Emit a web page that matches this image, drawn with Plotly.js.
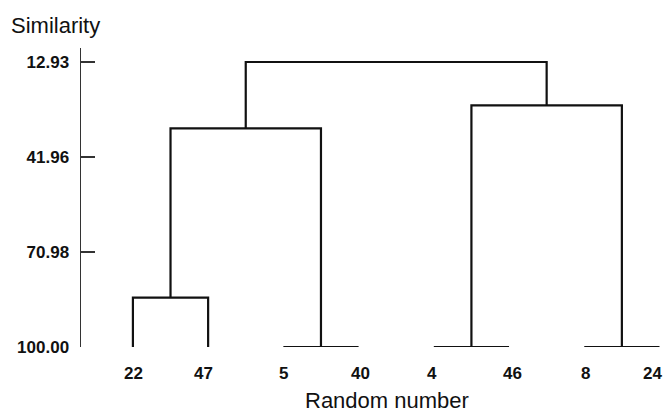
<!DOCTYPE html>
<html>
<head>
<meta charset="utf-8">
<script src="https://cdn.plot.ly/plotly-3.0.1.min.js"></script>
<style>html,body{margin:0;padding:0;background:#fff;}#chart{width:664px;height:412px;}</style>
</head>
<body>
<div id="chart"></div>
<script>
// Leaves in dendrogram order
const leafLabels = ['22', '47', '5', '40', '4', '46', '8', '24'];
// Merges: ids 0..7 are leaves, new clusters get ids 8, 9, ...
const mergeLeft   = [0, 2, 4, 6, 8, 10, 12];
const mergeRight  = [1, 3, 5, 7, 9, 11, 13];
const mergeHeight = [84.9, 100.0, 100.0, 100.0, 33.2, 26.2, 12.93];
const yTickVals = [12.93, 41.96, 70.98, 100.00];
const yTickText = ['12.93', '41.96', '70.98', '100.00'];

// label pixel nudges (layout only)
const labelShiftPx = [1, -5, 0, 2, -2, 3, 1, -7];

const leafBase = 100.0;
const nodeX = leafLabels.map((_, i) => i + 1);
const nodeY = leafLabels.map(() => leafBase);
const xs = [], ys = [];
for (let k = 0; k < mergeLeft.length; k++) {
  const a = mergeLeft[k], b = mergeRight[k], h = mergeHeight[k];
  xs.push(nodeX[a], nodeX[a], nodeX[b], nodeX[b], null);
  ys.push(nodeY[a], h, h, nodeY[b], null);
  nodeX.push((nodeX[a] + nodeX[b]) / 2);
  nodeY.push(h);
}

const trace = {
  x: xs, y: ys, type: 'scatter', mode: 'lines',
  line: {color: '#111', width: 2.2},
  hoverinfo: 'skip', showlegend: false, connectgaps: false
};

const FONT = '"Liberation Sans", Arial, sans-serif';
const leafAnnotations = leafLabels.map((lab, i) => ({
  text: '<b>' + lab + '</b>', xref: 'x', yref: 'paper', x: i + 1, y: 0,
  xanchor: 'center', yanchor: 'middle', yshift: -26, xshift: labelShiftPx[i],
  showarrow: false, font: {size: 17, family: FONT, color: '#111'}
}));

const layout = {
  width: 664, height: 412,
  margin: {l: 81, r: 0, t: 48, b: 65},
  paper_bgcolor: '#fff', plot_bgcolor: '#fff',
  font: {family: FONT, color: '#111'},
  xaxis: {
    range: [0.31, 8.06], showgrid: false, zeroline: false, showline: false,
    showticklabels: false, ticks: ''
  },
  yaxis: {
    range: [100, 8.65], showgrid: false, zeroline: false,
    showline: true, linecolor: '#333', linewidth: 1.5,
    tickmode: 'array', tickvals: yTickVals, ticktext: yTickText,
    ticks: 'inside', ticklen: 14, tickwidth: 1.5, tickcolor: '#333',
    ticklabelstandoff: 7,
    tickfont: {size: 17, family: FONT, weight: 'bold', color: '#111'}
  },
  annotations: [
    {text: 'Similarity', xref: 'paper', yref: 'paper', x: -81/583, y: 1 + 23/299,
     xanchor: 'left', yanchor: 'middle', xshift: 9, showarrow: false,
     font: {size: 22, family: FONT, color: '#111'}},
    {text: 'Random number', xref: 'paper', yref: 'paper', x: (387-81)/583, y: -(400-347)/299,
     xanchor: 'center', yanchor: 'middle', showarrow: false,
     font: {size: 22, family: FONT, color: '#111'}}
  ].concat(leafAnnotations)
};

Plotly.newPlot('chart', [trace], layout, {displayModeBar: false, staticPlot: true});
</script>
</body>
</html>
